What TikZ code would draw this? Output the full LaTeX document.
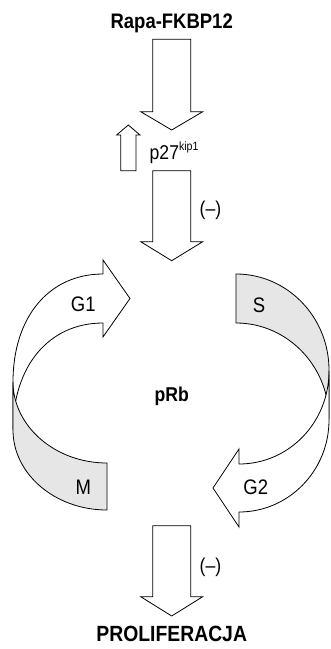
\documentclass[tikz,border=0pt]{standalone}
\usepackage{fontspec}
\setmainfont{Liberation Sans}[FakeStretch=0.88]
\definecolor{bandgray}{RGB}{230,230,230}
% vertical block arrow: {centre x}{shaft start y}{head base y}{tip y}
\newcommand\blockvert[4]{%
  \draw[blockarrow] ({#1-19},#2) -- ({#1+19},#2) -- ({#1+19},#3) -- ({#1+31},#3)
    -- (#1,#4) -- ({#1-31},#3) -- ({#1-19},#3) -- cycle;}
\begin{document}
\begin{tikzpicture}[x=1pt,y=-1pt,
  blockarrow/.style={draw=black,fill=white,line width=0.8pt,line join=miter},
  band/.style={draw=black,line width=0.8pt,line join=miter},
  txt/.style={inner sep=0pt,anchor=base},
  big/.style={font=\fontsize{21}{21}\selectfont},
  bigbold/.style={font=\bfseries\fontsize{21}{21}\selectfont}]
\useasboundingbox (0,0) rectangle (330,649);

% titles and labels
\node[txt,bigbold] (rapa) at (171.7,28.3) {Rapa-FKBP12};
\node[txt,anchor=base west,font=\fontsize{20}{20}\selectfont] (p27) at (149.5,159.3)
  {p27\raisebox{8.5pt}{\fontsize{12}{12}\selectfont kip1}};
\node[txt,font=\bfseries\fontsize{20}{20}\selectfont] (prb) at (171.7,401.7) {pRb};
\node[txt,font=\bfseries\fontsize{22}{22}\selectfont] (prolif) at (171.7,641.5) {PROLIFERACJA};

% straight block arrows
\blockvert{171.7}{39.3}{111.7}{130}
\blockvert{171.7}{170.7}{241.7}{260.7}
\blockvert{171.7}{525.7}{596.7}{616}
% small upward arrow beside p27
\draw[blockarrow] (120.7,170.7) -- (136,170.7) -- (136,135) -- (140,135) -- (128.3,125)
  -- (116.6,135) -- (120.7,135) -- cycle;

\node[txt,font=\fontsize{20}{20}\selectfont] (neg1) at (210.5,215) {(--)};
\node[txt,font=\fontsize{20}{20}\selectfont] (neg2) at (210.5,572) {(--)};

% cell cycle ribbon: G1 (front, white)
\draw[band,fill=white] (103,274) .. controls (49,274) and (13,317) .. (13,382)
  -- (13,430) .. controls (13,366) and (49,323) .. (103,323)
  -- (103,337) -- (130,298.5) -- (103,260) -- cycle;
% M (inner side, grey)
\draw[band,fill=bandgray] (13,382) .. controls (13,426) and (55,463) .. (107,463)
  -- (107,510) .. controls (55,510) and (13,474) .. (13,430) -- cycle;
% S (inner side, grey)
\draw[band,fill=bandgray] (236,274) .. controls (287.3,274) and (329,317) .. (329,370)
  -- (329,419) .. controls (329,366) and (287.3,323) .. (236,323) -- cycle;
% G2 (front, white)
\draw[band,fill=white] (239,464) .. controls (288.7,464) and (329,422.8) .. (329,371)
  -- (329,420) .. controls (329,470.8) and (288.7,512) .. (239,512)
  -- (239,527) -- (213,488) -- (239,449) -- cycle;

\node[txt,big] (g1) at (83.3,311.7) {G1};
\node[txt,big] (s) at (259,312) {S};
\node[txt,big] (m) at (83.3,494) {M};
\node[txt,big] (g2) at (255.7,494) {G2};
\end{tikzpicture}
\end{document}
